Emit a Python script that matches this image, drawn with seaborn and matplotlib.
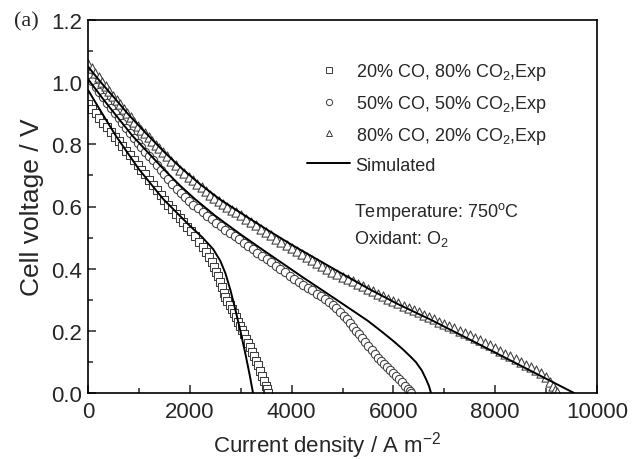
import matplotlib
matplotlib.use("Agg")
import matplotlib.pyplot as plt
from matplotlib.lines import Line2D
from matplotlib.ticker import MultipleLocator, FormatStrFormatter
import seaborn as sns

# experimental points (current density A m-2, cell voltage V)
sq_i = [0, 75, 150, 225, 300, 375, 450, 525, 600, 675, 750, 825, 900, 975, 1050, 1125, 1200, 1275, 1350, 1425,
        1500, 1575, 1650, 1725, 1800, 1875, 1950, 2025, 2100, 2175, 2250, 2320, 2380, 2440, 2480, 2520, 2550,
        2590, 2630, 2670, 2700, 2740, 2780, 2820, 2860, 2900, 2940, 2980, 3020, 3060, 3100, 3140, 3180, 3220,
        3260, 3300, 3340, 3380, 3420, 3460, 3490, 3510, 3530]
sq_v = [0.930, 0.915, 0.900, 0.885, 0.870, 0.855, 0.840, 0.825, 0.810, 0.795, 0.780, 0.765, 0.750, 0.735, 0.719,
        0.703, 0.686, 0.670, 0.653, 0.637, 0.620, 0.606, 0.592, 0.577, 0.563, 0.549, 0.535, 0.520, 0.504, 0.487,
        0.471, 0.455, 0.439, 0.423, 0.406, 0.388, 0.375, 0.358, 0.340, 0.323, 0.310, 0.297, 0.283, 0.270, 0.257,
        0.243, 0.230, 0.217, 0.203, 0.189, 0.175, 0.161, 0.147, 0.133, 0.118, 0.103, 0.089, 0.072, 0.056, 0.039,
        0.023, 0.012, 0.000]

circ_i = [0, 75, 150, 225, 300, 375, 450, 525, 600, 675, 750, 825, 900, 975, 1050, 1125, 1200, 1275, 1350, 1425,
          1500, 1580, 1660, 1740, 1820, 1900, 1980, 2070, 2160, 2250, 2340, 2430, 2520, 2610, 2700, 2790, 2880,
          2970, 3060, 3150, 3240, 3330, 3420, 3510, 3600, 3690, 3780, 3870, 3960, 4050, 4140, 4230, 4320, 4410,
          4500, 4580, 4660, 4740, 4810, 4880, 4950, 5020, 5090, 5150, 5210, 5270, 5330, 5390, 5450, 5510, 5570,
          5630, 5690, 5750, 5810, 5870, 5930, 5990, 6050, 6110, 6170, 6230, 6280, 6320, 6350]
circ_v = [1.020, 1.003, 0.986, 0.968, 0.951, 0.934, 0.917, 0.900, 0.884, 0.868, 0.853, 0.837, 0.821, 0.805, 0.791,
          0.776, 0.762, 0.748, 0.734, 0.719, 0.705, 0.689, 0.673, 0.657, 0.642, 0.630, 0.618, 0.606, 0.594, 0.583,
          0.571, 0.559, 0.548, 0.537, 0.526, 0.515, 0.504, 0.494, 0.483, 0.473, 0.462, 0.452, 0.441, 0.431, 0.420,
          0.410, 0.399, 0.388, 0.378, 0.368, 0.358, 0.349, 0.339, 0.330, 0.320, 0.311, 0.301, 0.292, 0.283, 0.272,
          0.260, 0.248, 0.237, 0.225, 0.213, 0.201, 0.189, 0.177, 0.164, 0.151, 0.138, 0.125, 0.112, 0.102, 0.092,
          0.083, 0.073, 0.064, 0.054, 0.044, 0.035, 0.024, 0.014, 0.006, 0.000]

tri_i = [0, 70, 140, 210, 280, 350, 420, 490, 560, 630, 700, 770, 840, 910, 980, 1050, 1120, 1190, 1260, 1330,
         1400, 1470, 1550, 1635, 1720, 1805, 1890, 1975, 2060, 2145, 2230, 2315, 2400, 2485, 2570, 2655, 2740,
         2825, 2910, 3000, 3100, 3200, 3300, 3400, 3500, 3600, 3700, 3800, 3900, 4000, 4100, 4200, 4300, 4400,
         4500, 4600, 4700, 4800, 4900, 5000, 5100, 5200, 5300, 5400, 5500, 5600, 5700, 5800, 5900, 6000, 6100,
         6200, 6300, 6400, 6500, 6600, 6700, 6800, 6900, 7000, 7100, 7200, 7300, 7400, 7500, 7600, 7700, 7800,
         7900, 8000, 8100, 8200, 8300, 8400, 8500, 8600, 8700, 8800, 8900, 9000, 9070, 9130, 9180, 9220]
tri_v = [1.060, 1.045, 1.031, 1.016, 1.001, 0.987, 0.972, 0.957, 0.943, 0.929, 0.915, 0.901, 0.887, 0.873, 0.859,
         0.847, 0.835, 0.823, 0.811, 0.799, 0.787, 0.775, 0.762, 0.747, 0.733, 0.719, 0.708, 0.696, 0.685, 0.673,
         0.662, 0.650, 0.638, 0.627, 0.618, 0.608, 0.599, 0.590, 0.581, 0.572, 0.561, 0.550, 0.539, 0.529, 0.518,
         0.508, 0.497, 0.486, 0.476, 0.465, 0.456, 0.446, 0.437, 0.427, 0.418, 0.409, 0.399, 0.390, 0.382, 0.374,
         0.366, 0.359, 0.351, 0.343, 0.335, 0.327, 0.319, 0.311, 0.303, 0.295, 0.288, 0.281, 0.274, 0.266, 0.259,
         0.252, 0.245, 0.238, 0.230, 0.223, 0.215, 0.208, 0.200, 0.193, 0.185, 0.177, 0.169, 0.161, 0.153, 0.145,
         0.136, 0.127, 0.118, 0.109, 0.100, 0.091, 0.083, 0.074, 0.063, 0.050, 0.036, 0.022, 0.011, 0.002]

# simulated curves
sq_sim_i = [0, 275, 549, 1000, 1477, 2000, 2250, 2458, 2600, 2700, 2800, 2900, 3000, 3100, 3180, 3242]
sq_sim_v = [0.975, 0.900, 0.827, 0.720, 0.624, 0.538, 0.500, 0.463, 0.425, 0.385, 0.330, 0.265, 0.195, 0.120,
            0.055, 0.000]
circ_sim_i = [0, 300, 600, 876, 1200, 1500, 1804, 2100, 2500, 3000, 3500, 4000, 4222, 4700, 5137, 5500, 5790,
              6000, 6183, 6330, 6444, 6560, 6640, 6700, 6739]
circ_sim_v = [1.010, 0.945, 0.883, 0.827, 0.770, 0.718, 0.668, 0.624, 0.570, 0.510, 0.453, 0.397, 0.372, 0.320,
              0.272, 0.232, 0.195, 0.167, 0.141, 0.118, 0.099, 0.072, 0.045, 0.022, 0.000]
tri_sim_i = [0, 250, 500, 800, 1144, 1500, 1804, 2200, 2600, 3176, 3600, 4000, 4500, 5000, 5529, 6100, 6706,
             7500, 8000, 8500, 9000, 9549]
tri_sim_v = [1.050, 1.000, 0.953, 0.895, 0.835, 0.775, 0.728, 0.672, 0.622, 0.561, 0.517, 0.477, 0.430, 0.383,
             0.334, 0.285, 0.238, 0.172, 0.130, 0.088, 0.046, 0.000]

labels = ["20% CO, 80% CO$_2$,Exp", "50% CO, 50% CO$_2$,Exp", "80% CO, 20% CO$_2$,Exp", "Simulated"]

sns.set_style("ticks")
plt.rcParams['font.family'] = ['Liberation Sans', 'DejaVu Sans']
plt.rcParams['mathtext.fontset'] = 'custom'
plt.rcParams['mathtext.rm'] = 'Liberation Sans'
plt.rcParams['mathtext.it'] = 'Liberation Sans:italic'

fig = plt.figure(figsize=(6.38, 4.6), dpi=100)
ax = fig.add_axes([88 / 638, 66 / 460, 509 / 638, 373 / 460])

edge = "#3c3c3c"
mk = dict(color="white", edgecolor=edge, linewidth=0.75, ax=ax, zorder=2)
sns.scatterplot(x=sq_i, y=sq_v, marker="s", s=30, **mk)
sns.scatterplot(x=circ_i, y=circ_v, marker="o", s=36, **mk)
sns.scatterplot(x=tri_i, y=tri_v, marker="^", s=44, **mk)

for xi, yi in [(sq_sim_i, sq_sim_v), (circ_sim_i, circ_sim_v), (tri_sim_i, tri_sim_v)]:
    sns.lineplot(x=xi, y=yi, color="black", linewidth=1.4, sort=False, estimator=None, ax=ax, zorder=3)

ax.set_xlim(0, 10000)
ax.set_ylim(0, 1.2)
ax.xaxis.set_major_locator(MultipleLocator(2000))
ax.xaxis.set_minor_locator(MultipleLocator(1000))
ax.yaxis.set_major_locator(MultipleLocator(0.2))
ax.yaxis.set_minor_locator(MultipleLocator(0.1))
ax.yaxis.set_major_formatter(FormatStrFormatter('%.1f'))
ax.tick_params(which='both', direction='in', width=1.1, labelsize=16, top=False, right=False)
ax.tick_params(which='major', length=6)
ax.tick_params(which='minor', length=3.5)
ax.tick_params(axis='x', pad=6)
ax.tick_params(axis='y', pad=4)
for sp in ax.spines.values():
    sp.set_linewidth(1.2)
    sp.set_color("black")

ax.set_xlabel("Current density / A m$^{-2}$", fontsize=16, labelpad=5, x=0.47)
ax.set_ylabel("Cell voltage / V", fontsize=19, labelpad=5)

handles = [
    Line2D([], [], marker="s", linestyle="none", markerfacecolor="white", markeredgecolor=edge,
           markeredgewidth=0.7, markersize=4.5),
    Line2D([], [], marker="o", linestyle="none", markerfacecolor="white", markeredgecolor=edge,
           markeredgewidth=0.7, markersize=4.5),
    Line2D([], [], marker="^", linestyle="none", markerfacecolor="white", markeredgecolor=edge,
           markeredgewidth=0.7, markersize=5),
    Line2D([], [], color="black", linewidth=1.4),
]
ax.legend(handles, labels, loc="upper left", bbox_to_anchor=(0.43, 0.89), frameon=False, fontsize=13,
          handlelength=2.4, handletextpad=0.3, labelspacing=0.6, borderpad=0, borderaxespad=0)

ax.text(0.523, 0.488, "Temperature: 750$^\\mathrm{o}$C", transform=ax.transAxes, fontsize=13, va="center")
ax.text(0.523, 0.415, "Oxidant: O$_2$", transform=ax.transAxes, fontsize=13, va="center")

fig.text(14 / 638, 1 - 22 / 460, "(a)", fontsize=16, family="Liberation Serif", va="center")

fig.savefig("out.png", dpi=100)
